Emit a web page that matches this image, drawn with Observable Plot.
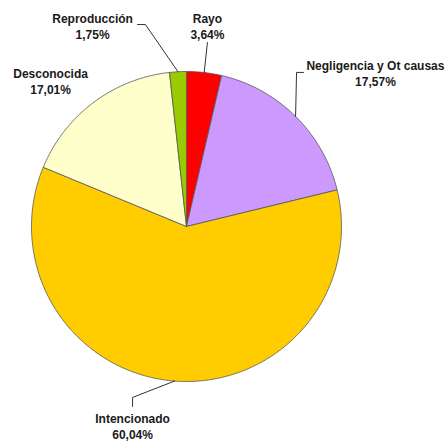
<!DOCTYPE html>
<html><head><meta charset="utf-8">
<script src="https://cdn.jsdelivr.net/npm/d3@7"></script>
<script src="https://cdn.jsdelivr.net/npm/@observablehq/plot@0.6"></script>
<style>html,body{margin:0;padding:0;background:#fff}</style>
</head><body><div id="chart"></div>
<script>
// data
const causes = ["Rayo", "Negligencia y Ot causas", "Intencionado", "Desconocida", "Reproducción"];
const shares = [3.64, 17.57, 60.04, 17.01, 1.75];
const pctLabels = ["3,64%", "17,57%", "60,04%", "17,01%", "1,75%"];
const colors = ["#ff0000", "#cc99ff", "#ffcc00", "#ffffcc", "#99cc00"];

// layout (pie units: centre 0,0, radius 1)
const labelPos = [[0.135, 1.297], [1.219, 0.990], [-0.348, -1.287], [-0.877, 0.939], [-0.606, 1.297]];
const leaderElbows = [[[0.135, 1.187]], [[0.755, 0.994], [0.710, 0.994]], [[-0.348, -1.161], [-0.348, -1.103]], null, [[-0.316, 1.303], [-0.265, 1.303]]];

const arcs = d3.pie().sort(null).value(d => d)(shares);
const slices = [];
const leaders = [];
arcs.forEach((a, i) => {
  slices.push({cause: causes[i], x: 0, y: 0});
  const n = Math.max(2, Math.ceil((a.endAngle - a.startAngle) / 0.01));
  for (let k = 0; k <= n; k++) {
    const t = a.startAngle + (a.endAngle - a.startAngle) * k / n;
    slices.push({cause: causes[i], x: Math.sin(t), y: Math.cos(t)});
  }
  slices.push({cause: causes[i], x: 0, y: 0});
  if (leaderElbows[i]) {
    leaderElbows[i].forEach(p => leaders.push({id: causes[i], x: p[0], y: p[1]}));
    const mid = (a.startAngle + a.endAngle) / 2;
    leaders.push({id: causes[i], x: Math.sin(mid), y: Math.cos(mid)});
  }
});
const labelData = causes.map((c, i) => ({x: labelPos[i][0], y: labelPos[i][1], text: c + "\n" + pctLabels[i]}));

const chart = Plot.plot({
  width: 445, height: 444, margin: 0,
  style: {background: "#fff", fontFamily: "Liberation Sans, Arial, sans-serif"},
  x: {domain: [-186 / 155, 259 / 155], axis: null},
  y: {domain: [-218 / 155, 226 / 155], axis: null},
  color: {domain: causes, range: colors},
  marks: [
    Plot.line(slices, {x: "x", y: "y", z: "cause", fill: "cause", stroke: "#555", strokeWidth: 0.8, strokeLinejoin: "round"}),
    Plot.line(leaders, {x: "x", y: "y", z: "id", stroke: "#333", strokeWidth: 1}),
    Plot.text(labelData, {x: "x", y: "y", text: "text", fontSize: 12, fontWeight: "bold", lineHeight: 1.33, fill: "#1a1a1a"})
  ]
});
document.getElementById("chart").append(chart);
</script>
</body></html>
